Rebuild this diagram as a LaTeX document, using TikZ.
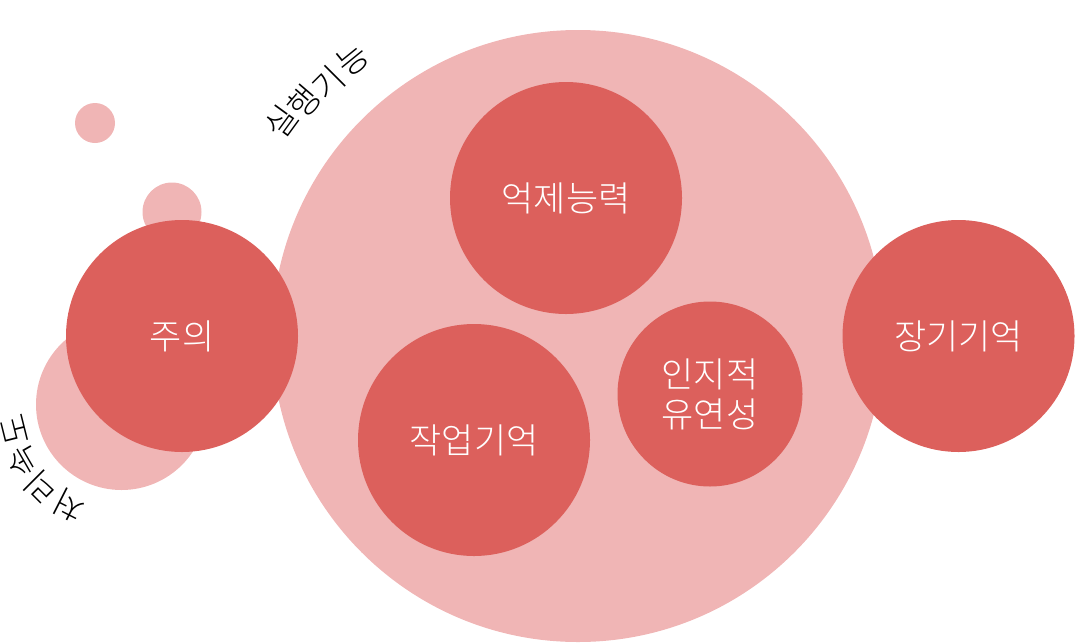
\documentclass[tikz,border=0pt]{standalone}
\usepackage{fontspec}
\IfFontExistsTF{Noto Sans CJK KR Light}
  {\setmainfont{Noto Sans CJK KR Light}}
  {\setmainfont{Noto Sans CJK KR}}
\definecolor{lightpink}{RGB}{240,181,181}
\definecolor{redfill}{RGB}{220,96,92}
\begin{document}
\begin{tikzpicture}[x=1pt,y=-1pt,
  pinkdot/.style={circle,fill=lightpink,inner sep=0pt,draw=none},
  reddot/.style={circle,fill=redfill,inner sep=0pt,draw=none,text=white,
    font=\fontsize{35}{40}\selectfont,align=center},
  arcchar/.style={inner sep=0pt,text=black,font=\fontsize{33}{33}\selectfont}]
\useasboundingbox (0,0) rectangle (1075,643);
% background pink circles
\node[pinkdot,minimum size=40pt] (tiny) at (95,123) {};
\node[pinkdot,minimum size=59pt] (small) at (172,212) {};
\node[pinkdot,minimum size=171pt] (speed) at (121.5,404.5) {};
\node[pinkdot,minimum size=612pt] (exec) at (578,336) {};
% red circles
\node[reddot,minimum size=232pt] (att) at (182,336) {주의};
\node[reddot,minimum size=232pt] (inh) at (566,198) {억제능력};
\node[reddot,minimum size=232pt] (wm) at (474,440) {작업기억};
\node[reddot,minimum size=185pt] (flex) at (710,394) {인지적\\유연성};
\node[reddot,minimum size=232pt] (ltm) at (958.5,336) {장기기억};
% arc text: 실행기능
\node[arcchar,rotate=54] (e1) at (281,122) {실};
\node[arcchar,rotate=49.5] (e2) at (304,102) {행};
\node[arcchar,rotate=45] (e3) at (328,83) {기};
\node[arcchar,rotate=39] (e4) at (353,60) {능};
% arc text: 처리속도
\node[arcchar,rotate=153] (s1) at (69,506) {처};
\node[arcchar,rotate=135] (s2) at (41,487) {리};
\node[arcchar,rotate=120] (s3) at (23,461) {속};
\node[arcchar,rotate=104] (s4) at (15,430) {도};
\end{tikzpicture}
\end{document}
